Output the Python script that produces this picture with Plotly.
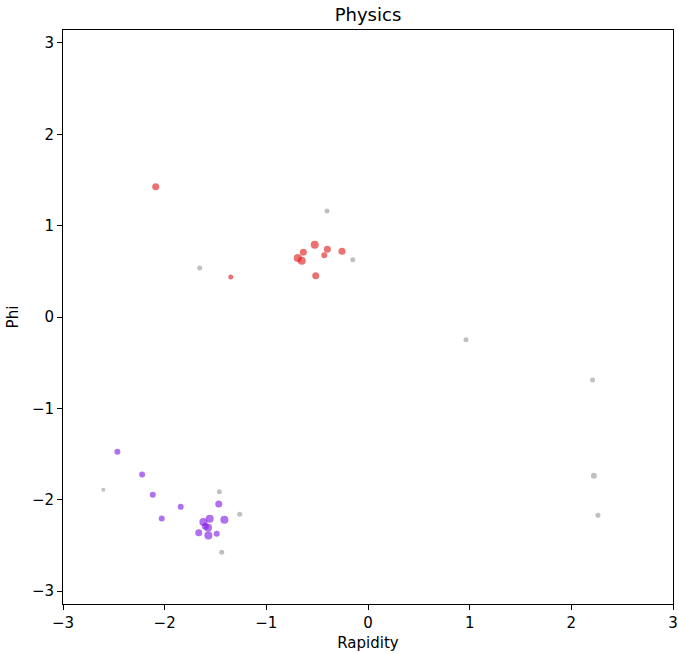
import math
import plotly.graph_objects as go

# Red cluster
red_x = [-2.088, -1.350, -0.691, -0.652, -0.636, -0.524, -0.514, -0.430, -0.400, -0.256]
red_y = [1.427, 0.438, 0.646, 0.617, 0.709, 0.792, 0.452, 0.676, 0.742, 0.720]
red_size = [7, 5, 8, 8, 7, 8, 7, 6, 7, 7]

# Purple cluster
purple_x = [-2.465, -2.222, -2.117, -1.842, -2.029, -1.468, -1.413, -1.557, -1.619,
            -1.600, -1.573, -1.665, -1.488, -1.570]
purple_y = [-1.475, -1.723, -1.946, -2.078, -2.205, -2.048, -2.220, -2.209, -2.245,
            -2.290, -2.308, -2.362, -2.373, -2.392]
purple_size = [6, 6, 6, 6, 6, 7, 8, 8, 8, 7, 8, 7, 6, 8]

# Gray (other particles)
gray_x = [-0.403, -0.150, -1.655, 0.964, 2.209, 2.222, 2.262, -2.603, -1.462, -1.262, -1.439]
gray_y = [1.161, 0.628, 0.537, -0.248, -0.690, -1.738, -2.169, -1.891, -1.913, -2.158, -2.574]
gray_size = [5, 5, 5, 5, 5, 6, 5, 4, 5, 5, 5]

x_ticks = [-3, -2, -1, 0, 1, 2, 3]
y_ticks = [-3, -2, -1, 0, 1, 2, 3]
tick_text = ["\u22123", "\u22122", "\u22121", "0", "1", "2", "3"]

fig = go.Figure()
fig.add_trace(go.Scatter(x=gray_x, y=gray_y, mode="markers",
                         marker=dict(color="rgba(150,150,150,0.85)", size=gray_size, line=dict(width=0))))
fig.add_trace(go.Scatter(x=red_x, y=red_y, mode="markers",
                         marker=dict(color="rgba(225,30,30,0.9)", size=red_size, line=dict(width=0))))
fig.add_trace(go.Scatter(x=purple_x, y=purple_y, mode="markers",
                         marker=dict(color="rgba(130,30,228,0.9)", size=purple_size, line=dict(width=0))))

axis_common = dict(showgrid=False, zeroline=False, showline=True, linecolor="black", linewidth=1,
                   mirror=True, ticks="outside", ticklen=5, tickwidth=1, tickcolor="black",
                   automargin=False,
                   tickfont=dict(family="DejaVu Sans", size=15, color="black"))

fig.update_layout(
    width=678, height=654,
    margin=dict(l=63, r=5, t=30, b=50),
    paper_bgcolor="white", plot_bgcolor="white",
    showlegend=False,
    font=dict(family="DejaVu Sans", size=15, color="black"),
    title=dict(text="Physics", x=0.5, xref="paper", y=(654 - 15) / 654, yref="container",
               yanchor="middle", xanchor="center",
               font=dict(family="DejaVu Sans", size=18, color="black")),
    xaxis=dict(range=[-3, 3], tickvals=x_ticks, ticktext=tick_text,
               title=dict(text="Rapidity", font=dict(size=15), standoff=6), **axis_common),
    yaxis=dict(range=[-math.pi, math.pi], tickvals=y_ticks, ticktext=tick_text,
               title=dict(text="Phi", font=dict(size=15), standoff=9), **axis_common),
)

fig.write_html("out.html")
